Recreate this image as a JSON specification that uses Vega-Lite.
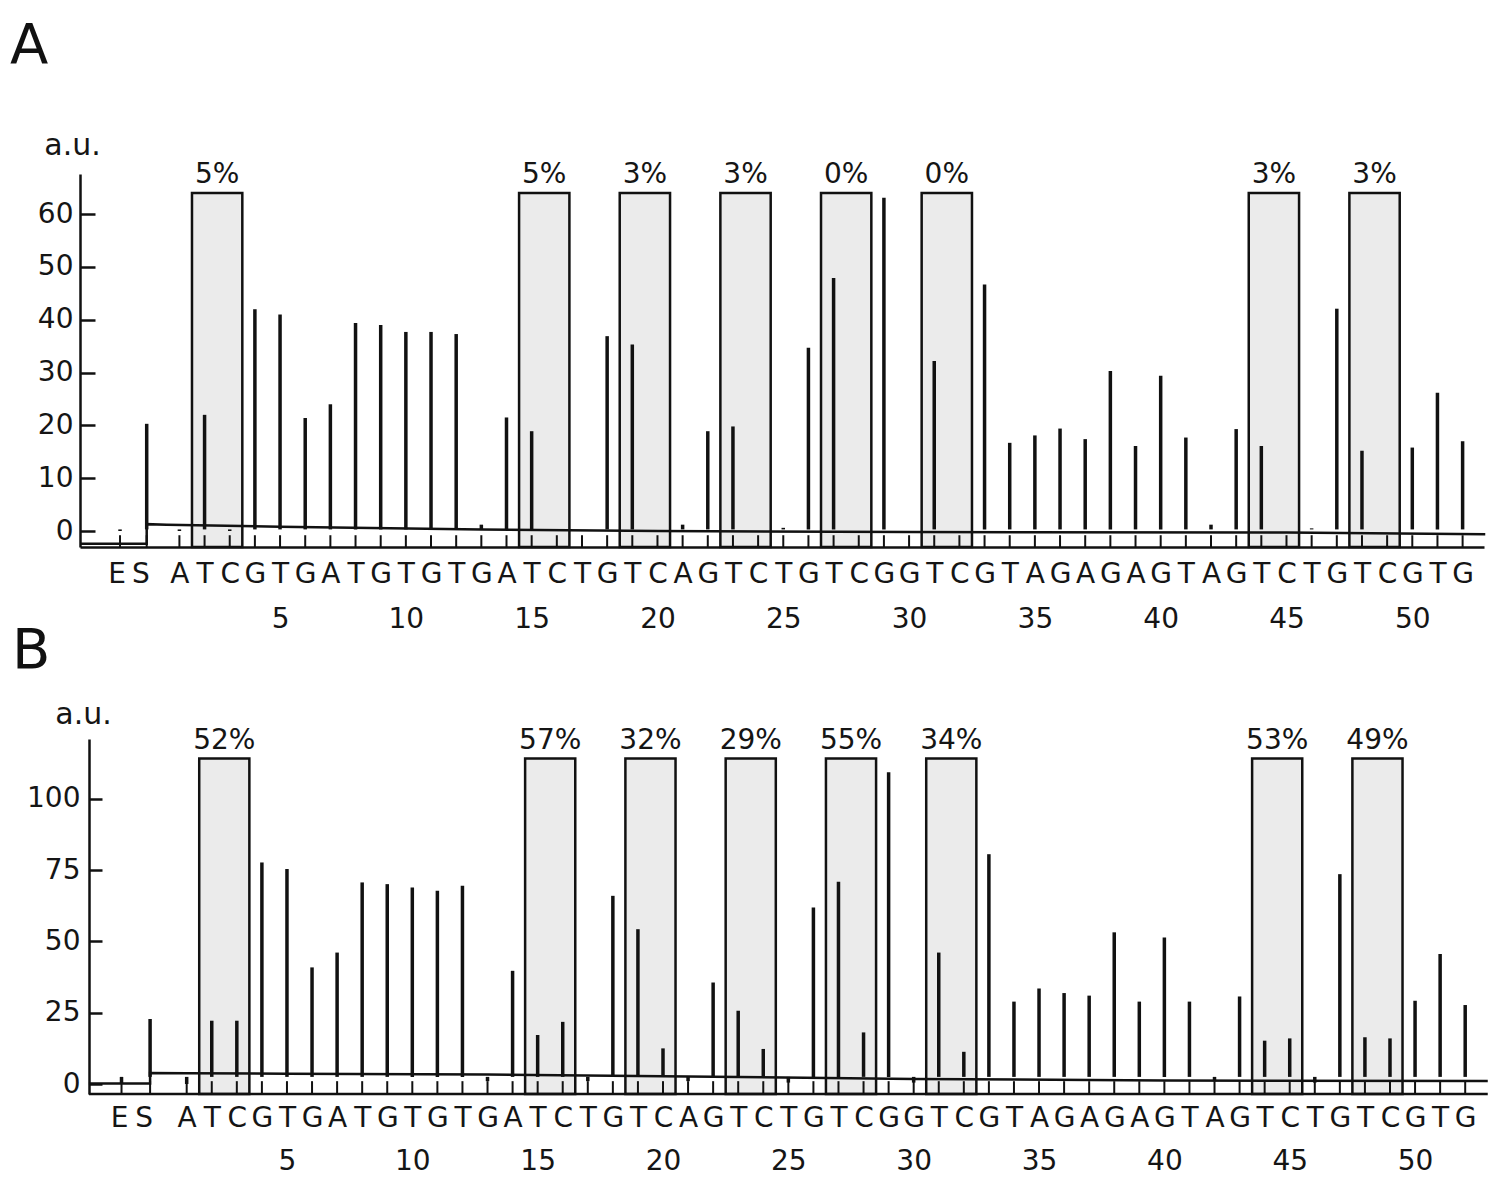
{
  "$schema": "https://vega.github.io/schema/vega-lite/v6.json",
  "padding": {"left": 10, "top": 18, "right": 0, "bottom": 0},
  "spacing": 192,
  "bounds": "flush",
  "config": {
    "font": "DejaVu Sans",
    "view": {"stroke": null},
    "axis": {"grid": false, "labelFontSize": 28, "labelColor": "#151515", "domainColor": "#111", "tickColor": "#111", "domainWidth": 2.5, "tickWidth": 2.5, "titleFontWeight": "normal", "titleColor": "#151515", "labelOverlap": false, "labelFlush": false, "labelBound": false}
  },
  "datasets": {
    "peaksA": [
      {"p": -1.36, "h": 0}, {"p": -0.3, "h": 20.3}, {"p": 1, "h": 0}, {"p": 2, "h": 22}, {"p": 3, "h": 0}, {"p": 4, "h": 42}, {"p": 5, "h": 41}, {"p": 6, "h": 21.4}, {"p": 7, "h": 24}, {"p": 8, "h": 39.4}, {"p": 9, "h": 39}, {"p": 10, "h": 37.7}, {"p": 11, "h": 37.7}, {"p": 12, "h": 37.3}, {"p": 13, "h": 1.2}, {"p": 14, "h": 21.5}, {"p": 15, "h": 18.9}, {"p": 16, "h": 0.3}, {"p": 17, "h": 0.3}, {"p": 18, "h": 36.9}, {"p": 19, "h": 35.3}, {"p": 20, "h": 0.3}, {"p": 21, "h": 1.2}, {"p": 22, "h": 18.9}, {"p": 23, "h": 19.8}, {"p": 24, "h": 0.3}, {"p": 25, "h": 0.6}, {"p": 26, "h": 34.7}, {"p": 27, "h": 47.9}, {"p": 28, "h": 0.3}, {"p": 29, "h": 63.1}, {"p": 30, "h": 0.3}, {"p": 31, "h": 32.2}, {"p": 32, "h": 0.3}, {"p": 33, "h": 46.7}, {"p": 34, "h": 16.7}, {"p": 35, "h": 18.1}, {"p": 36, "h": 19.4}, {"p": 37, "h": 17.4}, {"p": 38, "h": 30.3}, {"p": 39, "h": 16.1}, {"p": 40, "h": 29.4}, {"p": 41, "h": 17.7}, {"p": 42, "h": 1.2}, {"p": 43, "h": 19.3}, {"p": 44, "h": 16.1}, {"p": 45, "h": 0.3}, {"p": 46, "h": 0.5}, {"p": 47, "h": 42.1}, {"p": 48, "h": 15.2}, {"p": 49, "h": 0.3}, {"p": 50, "h": 15.8}, {"p": 51, "h": 26.2}, {"p": 52, "h": 17.0}
    ],
    "peaksB": [
      {"p": -1.6, "h": 0}, {"p": -0.46, "h": 22.8}, {"p": 1, "h": 0}, {"p": 2, "h": 22.2}, {"p": 3, "h": 22.2}, {"p": 4, "h": 77.7}, {"p": 5, "h": 75.4}, {"p": 6, "h": 40.9}, {"p": 7, "h": 46.1}, {"p": 8, "h": 70.7}, {"p": 9, "h": 70.1}, {"p": 10, "h": 68.9}, {"p": 11, "h": 67.8}, {"p": 12, "h": 69.5}, {"p": 13, "h": 1.0}, {"p": 14, "h": 39.7}, {"p": 15, "h": 17.2}, {"p": 16, "h": 21.8}, {"p": 17, "h": 1.0}, {"p": 18, "h": 66.0}, {"p": 19, "h": 54.3}, {"p": 20, "h": 12.5}, {"p": 21, "h": 1.0}, {"p": 22, "h": 35.6}, {"p": 23, "h": 25.7}, {"p": 24, "h": 12.3}, {"p": 25, "h": 0.5}, {"p": 26, "h": 61.9}, {"p": 27, "h": 70.9}, {"p": 28, "h": 18.1}, {"p": 29, "h": 109.3}, {"p": 30, "h": 0.5}, {"p": 31, "h": 46.1}, {"p": 32, "h": 11.3}, {"p": 33, "h": 80.6}, {"p": 34, "h": 28.9}, {"p": 35, "h": 33.5}, {"p": 36, "h": 31.9}, {"p": 37, "h": 31.0}, {"p": 38, "h": 53.2}, {"p": 39, "h": 28.9}, {"p": 40, "h": 51.4}, {"p": 41, "h": 28.9}, {"p": 42, "h": 1.0}, {"p": 43, "h": 30.7}, {"p": 44, "h": 15.2}, {"p": 45, "h": 16.0}, {"p": 46, "h": 0.5}, {"p": 47, "h": 73.6}, {"p": 48, "h": 16.4}, {"p": 49, "h": 16.0}, {"p": 50, "h": 29.2}, {"p": 51, "h": 45.6}, {"p": 52, "h": 27.7}
    ],
    "traceA": [
      {"p": -2.95, "v": -2.4}, {"p": -0.3, "v": -2.4}, {"p": -0.3, "v": 1.3}, {"p": 0.5, "v": 1.2}, {"p": 5, "v": 0.8}, {"p": 13, "v": 0.3}, {"p": 20, "v": 0.0}, {"p": 30, "v": -0.2}, {"p": 45, "v": -0.3}, {"p": 52.9, "v": -0.6}
    ],
    "traceB": [
      {"p": -2.9, "v": 0.2}, {"p": -0.46, "v": 0.2}, {"p": -0.46, "v": 3.9}, {"p": 1, "v": 3.8}, {"p": 5, "v": 3.6}, {"p": 13, "v": 3.3}, {"p": 20, "v": 2.7}, {"p": 30, "v": 1.8}, {"p": 40, "v": 1.2}, {"p": 52.9, "v": 1.1}
    ],
    "boxesA": [
      {"lo": 1.5, "hi": 3.5, "mid": 2.5, "pct": "5%"}, {"lo": 14.5, "hi": 16.5, "mid": 15.5, "pct": "5%"}, {"lo": 18.5, "hi": 20.5, "mid": 19.5, "pct": "3%"}, {"lo": 22.5, "hi": 24.5, "mid": 23.5, "pct": "3%"}, {"lo": 26.5, "hi": 28.5, "mid": 27.5, "pct": "0%"}, {"lo": 30.5, "hi": 32.5, "mid": 31.5, "pct": "0%"}, {"lo": 43.5, "hi": 45.5, "mid": 44.5, "pct": "3%"}, {"lo": 47.5, "hi": 49.5, "mid": 48.5, "pct": "3%"}
    ],
    "boxesB": [
      {"lo": 1.5, "hi": 3.5, "mid": 2.5, "pct": "52%"}, {"lo": 14.5, "hi": 16.5, "mid": 15.5, "pct": "57%"}, {"lo": 18.5, "hi": 20.5, "mid": 19.5, "pct": "32%"}, {"lo": 22.5, "hi": 24.5, "mid": 23.5, "pct": "29%"}, {"lo": 26.5, "hi": 28.5, "mid": 27.5, "pct": "55%"}, {"lo": 30.5, "hi": 32.5, "mid": 31.5, "pct": "34%"}, {"lo": 43.5, "hi": 45.5, "mid": 44.5, "pct": "53%"}, {"lo": 47.5, "hi": 49.5, "mid": 48.5, "pct": "49%"}
    ]
  },
  "vconcat": [
    {
      "width": 1404,
      "height": 373,
      "title": {"text": "A", "anchor": "start", "frame": "group", "dx": -70, "offset": 11, "fontSize": 56, "fontWeight": "normal", "color": "#111", "baseline": "alphabetic"},
      "layer": [
        {
          "data": {"name": "boxesA"},
          "mark": {"type": "rect", "fill": "#ebebeb", "stroke": "#111", "strokeWidth": 2.5},
          "encoding": {
            "x": {"field": "lo", "type": "quantitative", "scale": {"domain": [-2.951, 52.85], "nice": false, "zero": false},
              "axis": {"title": null, "format": "d", "tickCount": 100, "values": [-1.5, -0.55, 1, 2, 3, 4, 5, 6, 7, 8, 9, 10, 11, 12, 13, 14, 15, 16, 17, 18, 19, 20, 21, 22, 23, 24, 25, 26, 27, 28, 29, 30, 31, 32, 33, 34, 35, 36, 37, 38, 39, 40, 41, 42, 43, 44, 45, 46, 47, 48, 49, 50, 51, 52],
                "labelExpr": "datum.value < -1 ? 'E' : datum.value < 0.5 ? 'S' : datum.value % 5 == 0 ? [substring('ATCGTGATGTGTGATCTGTCAGTCTGTCGGTCGTAGAGAGTAGTCTGTCGTG', datum.value - 1, datum.value), datum.label] : substring('ATCGTGATGTGTGATCTGTCAGTCTGTCGGTCGTAGAGAGTAGTCTGTCGTG', datum.value - 1, datum.value)",
                "ticks": false, "domain": true, "labelPadding": 13, "labelLineHeight": 45, "labelAngle": 0, "labelOverlap": false, "labelFlush": false, "labelBound": false}},
            "x2": {"field": "hi"},
            "y": {"datum": 64, "type": "quantitative", "scale": {"domain": [-3.03, 67.61], "nice": false, "zero": false},
              "axis": {"title": "a.u.", "values": [0, 10, 20, 30, 40, 50, 60], "tickSize": -15, "labelPadding": 22, "labelOverlap": false, "titleAngle": 0, "titleAlign": "center", "titleBaseline": "alphabetic", "titleX": -8, "titleY": -20, "titleFontSize": 30}},
            "y2": {"datum": -3.03}
          }
        },
        {
          "data": {"name": "boxesA"},
          "mark": {"type": "text", "fontSize": 28, "color": "#151515", "baseline": "alphabetic", "align": "center"},
          "encoding": {
            "x": {"field": "mid", "type": "quantitative"},
            "y": {"datum": 66.0, "type": "quantitative"},
            "text": {"field": "pct"}
          }
        },
        {
          "data": {"name": "peaksA"},
          "mark": {"type": "rule", "color": "#111", "strokeWidth": 2},
          "encoding": {
            "x": {"field": "p", "type": "quantitative"},
            "y": {"datum": -3.03, "type": "quantitative"},
            "y2": {"datum": -0.8}
          }
        },
        {
          "data": {"name": "traceA"},
          "mark": {"type": "line", "color": "#111", "strokeWidth": 2.5},
          "encoding": {
            "x": {"field": "p", "type": "quantitative"},
            "y": {"field": "v", "type": "quantitative"}
          }
        },
        {
          "data": {"name": "peaksA"},
          "mark": {"type": "rule", "color": "#111", "strokeWidth": 3.5},
          "encoding": {
            "x": {"field": "p", "type": "quantitative"},
            "y": {"field": "h", "type": "quantitative"},
            "y2": {"datum": 0.3}
          }
        }
      ]
    },
    {
      "width": 1404,
      "height": 355,
      "title": {"text": "B", "anchor": "start", "frame": "group", "dx": -68, "offset": -25, "fontSize": 56, "fontWeight": "normal", "color": "#111", "baseline": "alphabetic"},
      "layer": [
        {
          "data": {"name": "boxesB"},
          "mark": {"type": "rect", "fill": "#ebebeb", "stroke": "#111", "strokeWidth": 2.5},
          "encoding": {
            "x": {"field": "lo", "type": "quantitative", "scale": {"domain": [-3.256, 52.75], "nice": false, "zero": false},
              "axis": {"title": null, "format": "d", "tickCount": 100, "values": [-1.7, -0.72, 1, 2, 3, 4, 5, 6, 7, 8, 9, 10, 11, 12, 13, 14, 15, 16, 17, 18, 19, 20, 21, 22, 23, 24, 25, 26, 27, 28, 29, 30, 31, 32, 33, 34, 35, 36, 37, 38, 39, 40, 41, 42, 43, 44, 45, 46, 47, 48, 49, 50, 51, 52],
                "labelExpr": "datum.value < -1 ? 'E' : datum.value < 0.5 ? 'S' : datum.value % 5 == 0 ? [substring('ATCGTGATGTGTGATCTGTCAGTCTGTCGGTCGTAGAGAGTAGTCTGTCGTG', datum.value - 1, datum.value), datum.label] : substring('ATCGTGATGTGTGATCTGTCAGTCTGTCGGTCGTAGAGAGTAGTCTGTCGTG', datum.value - 1, datum.value)",
                "ticks": false, "domain": false, "labelPadding": 10, "labelLineHeight": 43, "labelAngle": 0, "labelOverlap": false, "labelFlush": false, "labelBound": false}},
            "x2": {"field": "hi"},
            "y": {"datum": 114.2, "type": "quantitative", "scale": {"domain": [-3.5, 121.0], "nice": false, "zero": false},
              "axis": {"title": "a.u.", "values": [0, 25, 50, 75, 100], "offset": -9, "tickSize": -13, "labelPadding": 22, "labelOverlap": false, "titleAngle": 0, "titleAlign": "center", "titleBaseline": "alphabetic", "titleX": -6, "titleY": -16, "titleFontSize": 30}},
            "y2": {"datum": -3.5}
          }
        },
        {
          "data": {"name": "boxesB"},
          "mark": {"type": "text", "fontSize": 28, "color": "#151515", "baseline": "alphabetic", "align": "center"},
          "encoding": {
            "x": {"field": "mid", "type": "quantitative"},
            "y": {"datum": 117.5, "type": "quantitative"},
            "text": {"field": "pct"}
          }
        },
        {
          "data": {"name": "peaksB"},
          "mark": {"type": "rule", "color": "#111", "strokeWidth": 2},
          "encoding": {
            "x": {"field": "p", "type": "quantitative"},
            "y": {"datum": -3.5, "type": "quantitative"},
            "y2": {"datum": 1.0}
          }
        },
        {
          "data": {"values": [{"line": "x-axis"}]},
          "mark": {"type": "rule", "color": "#111", "strokeWidth": 2.5},
          "encoding": {
            "x": {"datum": -2.9, "type": "quantitative"},
            "x2": {"datum": 52.9},
            "y": {"datum": -3.5, "type": "quantitative"}
          }
        },
        {
          "data": {"name": "traceB"},
          "mark": {"type": "line", "color": "#111", "strokeWidth": 2.5},
          "encoding": {
            "x": {"field": "p", "type": "quantitative"},
            "y": {"field": "v", "type": "quantitative"}
          }
        },
        {
          "data": {"name": "peaksB"},
          "mark": {"type": "rule", "color": "#111", "strokeWidth": 3.5},
          "encoding": {
            "x": {"field": "p", "type": "quantitative"},
            "y": {"field": "h", "type": "quantitative"},
            "y2": {"datum": 2.5}
          }
        }
      ]
    }
  ]
}
